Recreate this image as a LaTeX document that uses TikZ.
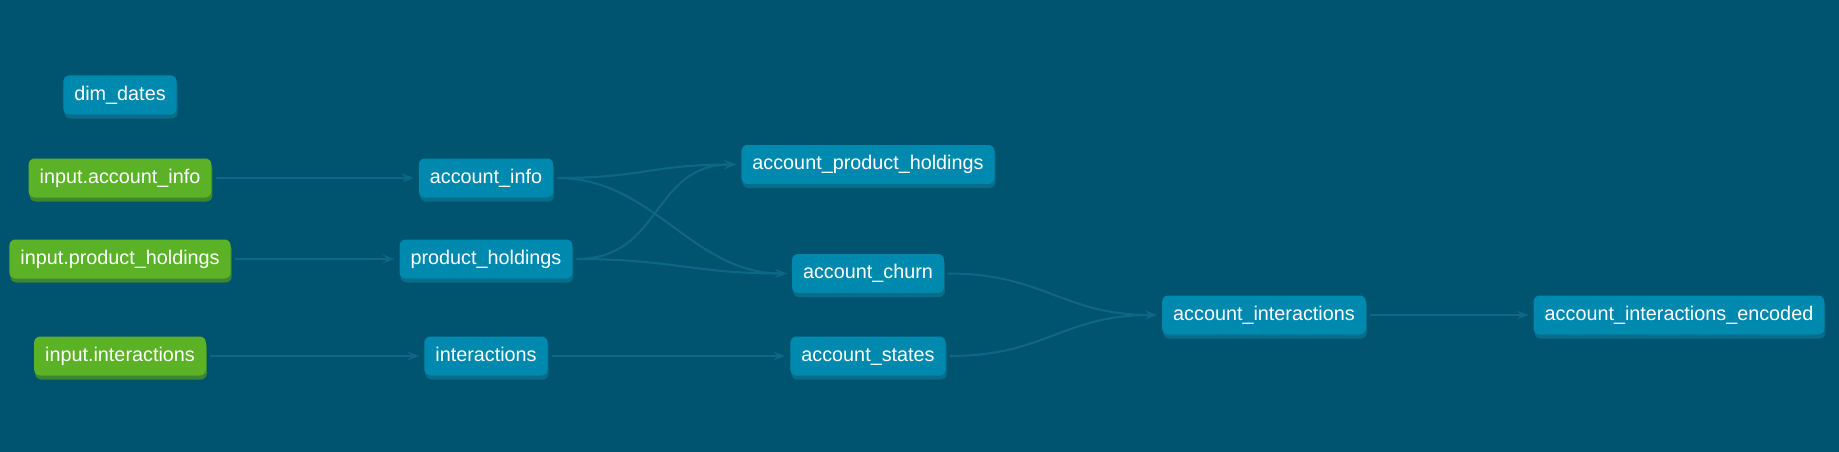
\documentclass[tikz,border=0pt]{standalone}
\usepackage{fontspec}
\setmainfont{Liberation Sans}
\usepackage{xcolor}
\usepackage{tikz}
\usetikzlibrary{arrows.meta}
\usetikzlibrary{shadows}

\definecolor{bgcol}{RGB}{1,84,111}
\definecolor{mdlcol}{RGB}{0,137,174}
\definecolor{mdlshd}{RGB}{8,108,138}
\definecolor{srccol}{RGB}{91,178,38}
\definecolor{srcshd}{RGB}{60,134,50}
\definecolor{lnkcol}{RGB}{12,104,134}

\begin{document}
\begin{tikzpicture}[
  x=1pt, y=-1pt,
  box/.style={rounded corners=6pt, text=white, minimum height=39pt,
    inner xsep=11pt, inner ysep=0pt, text height=14.5pt, text depth=4.5pt,
    font=\fontsize{19.8}{22}\selectfont},
  mdl/.style={box, fill=mdlcol,
    general shadow={fill=mdlshd, shadow xshift=1pt, shadow yshift=-4pt}},
  src/.style={box, fill=srccol,
    general shadow={fill=srcshd, shadow xshift=1pt, shadow yshift=-4pt}},
  lnk/.style={draw=lnkcol, line width=2pt,
    -{Stealth[length=12pt,width=9pt,inset=5pt]},
    shorten <=4pt, shorten >=5pt}
]

\fill [bgcol] (0,0) rectangle (1839,452);

\node [mdl] (dimdates) at (120,95) {dim\_dates};

\node [src] (srcinfo) at (120,178) {input.account\_info};
\node [src] (srcprod) at (120,259) {input.product\_holdings};
\node [src] (srcint) at (120,356) {input.interactions};

\node [mdl] (info) at (486,178) {account\_info};
\node [mdl] (prod) at (486,259) {product\_holdings};
\node [mdl] (inter) at (486,356) {interactions};

\node [mdl] (aph) at (868,164.5) {account\_product\_holdings};
\node [mdl] (churn) at (868,273.5) {account\_churn};
\node [mdl] (states) at (868,356) {account\_states};

\node [mdl] (ainter) at (1264,315) {account\_interactions};
\node [mdl] (encoded) at (1679,315) {account\_interactions\_encoded};

\draw [lnk] (srcinfo.east) -- (info.west);
\draw [lnk] (srcprod.east) -- (prod.west);
\draw [lnk] (srcint.east) -- (inter.west);

\draw [lnk] (info.east) .. controls +(90,0) and +(-90,0) .. (aph.west);
\draw [lnk] (info.east) .. controls +(100,0) and +(-100,0) .. (churn.west);
\draw [lnk] (prod.east) .. controls +(90,0) and +(-90,0) .. (aph.west);
\draw [lnk] (prod.east) .. controls +(100,0) and +(-100,0) .. (churn.west);
\draw [lnk] (inter.east) -- (states.west);

\draw [lnk] (churn.east) .. controls +(100,0) and +(-100,0) .. (ainter.west);
\draw [lnk] (states.east) .. controls +(100,0) and +(-100,0) .. (ainter.west);
\draw [lnk] (ainter.east) -- (encoded.west);

\end{tikzpicture}
\end{document}
